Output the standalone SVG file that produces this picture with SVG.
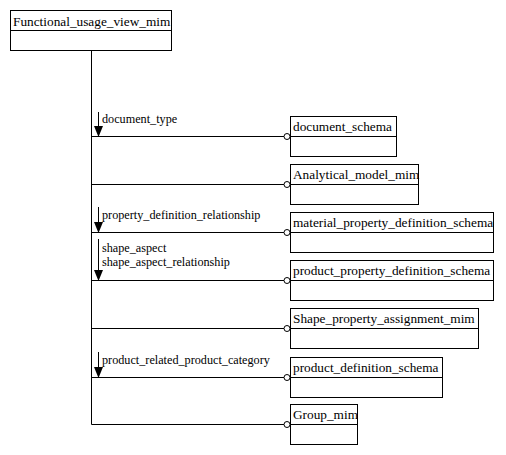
<svg xmlns="http://www.w3.org/2000/svg" width="506" height="455" viewBox="0 0 506 455">
<style>
.box{fill:#fff;stroke:#000;stroke-width:1}
text{font-family:'Liberation Serif','Times New Roman','DejaVu Serif',serif;font-size:13.3px;fill:#000}
text.lbl{font-size:12.2px}
.ln{stroke:#000;stroke-width:1;fill:none}
.end{fill:#fff;stroke:#000;stroke-width:1}
.ah{fill:#000;stroke:none}
</style>
<rect width="506" height="455" fill="#fff"/>
<g id="connectors">
<path class="ln" d="M91.5 50.5V424.5"/>
<path class="ln" d="M91.5 136.5H284"/><circle class="end" cx="287" cy="136.5" r="3"/>
<path class="ln" d="M91.5 184.5H284"/><circle class="end" cx="287" cy="184.5" r="3"/>
<path class="ln" d="M91.5 232.5H284"/><circle class="end" cx="287" cy="232.5" r="3"/>
<path class="ln" d="M91.5 280.5H284"/><circle class="end" cx="287" cy="280.5" r="3"/>
<path class="ln" d="M91.5 328.5H284"/><circle class="end" cx="287" cy="328.5" r="3"/>
<path class="ln" d="M91.5 377.5H284"/><circle class="end" cx="287" cy="377.5" r="3"/>
<path class="ln" d="M91.5 424.5H284"/><circle class="end" cx="287" cy="424.5" r="3"/>
<path class="ln" d="M98.5 112V127"/><polygon class="ah" points="94,126 103,126 98.5,137"/>
<text class="lbl" x="102" y="123">document_type</text>
<path class="ln" d="M98.5 207V223"/><polygon class="ah" points="94,222 103,222 98.5,233"/>
<text class="lbl" x="102" y="219">property_definition_relationship</text>
<path class="ln" d="M98.5 239V271"/><polygon class="ah" points="94,270 103,270 98.5,281"/>
<text class="lbl" x="102" y="252">shape_aspect</text>
<text class="lbl" x="102" y="266">shape_aspect_relationship</text>
<path class="ln" d="M98.5 352V368"/><polygon class="ah" points="94,367 103,367 98.5,378"/>
<text class="lbl" x="102" y="364">product_related_product_category</text>
</g>
<g id="Functional_usage_view_mim">
<rect class="box" x="10.5" y="10.5" width="161" height="40"/><path class="ln" d="M10.5 30.5H171.5"/>
<text x="13" y="25.5">Functional_usage_view_mim</text>
</g>
<g id="document_schema">
<rect class="box" x="290.5" y="116.5" width="106" height="40"/><path class="ln" d="M290.5 136.5H396.5"/>
<text x="293" y="131">document_schema</text>
</g>
<g id="Analytical_model_mim">
<rect class="box" x="290.5" y="164.5" width="128" height="40"/><path class="ln" d="M290.5 184.5H418.5"/>
<text x="293" y="179">Analytical_model_mim</text>
</g>
<g id="material_property_definition_schema">
<rect class="box" x="290.5" y="212.5" width="203" height="40"/><path class="ln" d="M290.5 232.5H493.5"/>
<text x="293" y="227">material_property_definition_schema</text>
</g>
<g id="product_property_definition_schema">
<rect class="box" x="290.5" y="260.5" width="203" height="40"/><path class="ln" d="M290.5 280.5H493.5"/>
<text x="293" y="275">product_property_definition_schema</text>
</g>
<g id="Shape_property_assignment_mim">
<rect class="box" x="290.5" y="308.5" width="188" height="40"/><path class="ln" d="M290.5 328.5H478.5"/>
<text x="293" y="323">Shape_property_assignment_mim</text>
</g>
<g id="product_definition_schema">
<rect class="box" x="290.5" y="357.5" width="152" height="40"/><path class="ln" d="M290.5 377.5H442.5"/>
<text x="293" y="372">product_definition_schema</text>
</g>
<g id="Group_mim">
<rect class="box" x="290.5" y="404.5" width="67" height="40"/><path class="ln" d="M290.5 424.5H357.5"/>
<text x="293" y="419">Group_mim</text>
</g>
</svg>
